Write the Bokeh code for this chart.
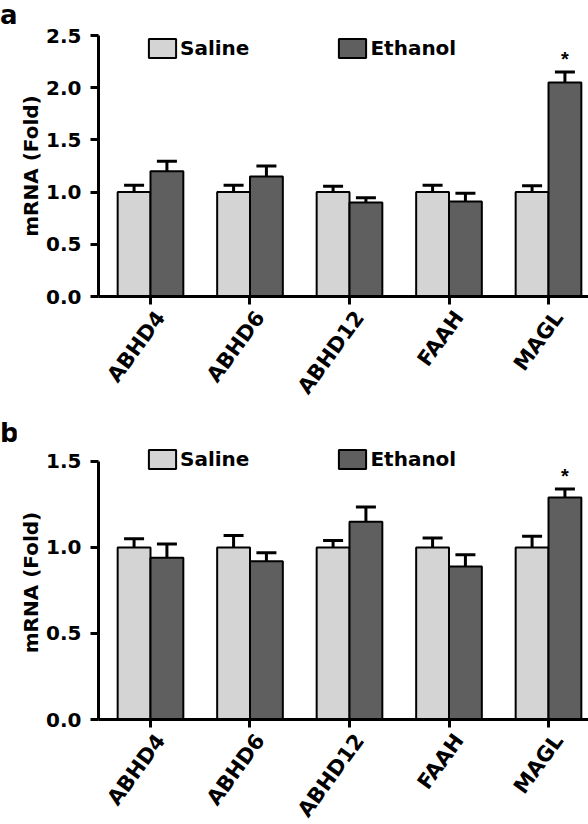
import numpy as np
from bokeh.plotting import figure
from bokeh.models import (ColumnDataSource, Range1d, FixedTicker, Whisker, TeeHead,
                          Legend, LegendItem, PrintfTickFormatter, LinearAxis, Div,
                          CustomLabelingPolicy)
from bokeh.layouts import column, row
from bokeh.embed import file_html
from bokeh.resources import INLINE

FONT = "DejaVu Sans"

genes = ["ABHD4", "ABHD6", "ABHD12", "FAAH", "MAGL"]
series_names = ["Saline", "Ethanol"]

# Panel a
a_saline = [1.00, 1.00, 1.00, 1.00, 1.00]
a_saline_err = [0.065, 0.065, 0.055, 0.065, 0.060]
a_ethanol = [1.20, 1.15, 0.90, 0.91, 2.05]
a_ethanol_err = [0.095, 0.100, 0.045, 0.080, 0.100]
a_sig = [False, False, False, False, True]
a_yticks = [0.0, 0.5, 1.0, 1.5, 2.0, 2.5]

# Panel b
b_saline = [1.00, 1.00, 1.00, 1.00, 1.00]
b_saline_err = [0.050, 0.070, 0.040, 0.055, 0.065]
b_ethanol = [0.94, 0.92, 1.15, 0.89, 1.29]
b_ethanol_err = [0.080, 0.050, 0.085, 0.068, 0.050]
b_sig = [False, False, False, False, True]
b_yticks = [0.0, 0.5, 1.0, 1.5]

SAL_COLOR = "#d4d4d4"
ETH_COLOR = "#5f5f5f"
BAR_W = 0.33
OFF = 0.165
X0, X1 = -0.5226, 4.402
LABEL_SHIFT = 0.1

HIDE_ALL = CustomLabelingPolicy(code="""
for (const i of indices) { indices.unset(i) }
return indices
""")


def make_panel(sal, sal_err, eth, eth_err, sig, yticks, y_extra, frame_h,
               top, bottom, legend_y):
    ymax = yticks[-1]
    p = figure(frame_width=490, frame_height=frame_h,
               min_border_left=79, min_border_right=0,
               min_border_top=top, min_border_bottom=bottom,
               x_range=Range1d(X0, X1), y_range=Range1d(0, ymax + y_extra),
               output_backend="svg", toolbar_location=None)
    p.extra_x_ranges = {"lab": Range1d(X0 - LABEL_SHIFT, X1 - LABEL_SHIFT)}
    idx = np.arange(len(genes))
    xs_s = idx - OFF
    xs_e = idx + OFF
    src_s = ColumnDataSource(dict(x=xs_s, top=sal,
                                  upper=np.array(sal) + np.array(sal_err),
                                  lower=np.array(sal) - np.array(sal_err)))
    src_e = ColumnDataSource(dict(x=xs_e, top=eth,
                                  upper=np.array(eth) + np.array(eth_err),
                                  lower=np.array(eth) - np.array(eth_err)))
    r_s = p.vbar(x="x", top="top", width=BAR_W, source=src_s,
                 fill_color=SAL_COLOR, line_color="black", line_width=2)
    r_e = p.vbar(x="x", top="top", width=BAR_W, source=src_e,
                 fill_color=ETH_COLOR, line_color="black", line_width=2)
    for src in (src_s, src_e):
        w = Whisker(base="x", upper="upper", lower="lower", source=src,
                    line_width=3, line_color="black",
                    upper_head=TeeHead(size=20, line_width=3, line_color="black"),
                    lower_head=TeeHead(size=20, line_width=3, line_color="black"))
        p.add_layout(w)

    # significance marks
    sx = [xs_e[i] for i in range(len(genes)) if sig[i]]
    sy = [eth[i] + eth_err[i] for i in range(len(genes)) if sig[i]]
    p.text(x=sx, y=sy, text=["*"] * len(sx), text_align="center",
           text_baseline="bottom", y_offset=-2, text_font_size="20px",
           text_font_style="bold", text_color="black")

    legend = Legend(items=[LegendItem(label=series_names[0], renderers=[r_s]),
                           LegendItem(label=series_names[1], renderers=[r_e])],
                    orientation="horizontal", location=(47, legend_y),
                    glyph_width=34, glyph_height=24, label_standoff=1, spacing=86,
                    padding=0, margin=0, border_line_alpha=0,
                    background_fill_alpha=0,
                    label_text_font=FONT, label_text_font_style="bold",
                    label_text_font_size="20px", label_text_color="black")
    p.add_layout(legend)

    p.xgrid.visible = False
    p.ygrid.visible = False
    p.outline_line_color = None

    # label axis (labels sit slightly right of the ticks, as in the original)
    lab_axis = LinearAxis(x_range_name="lab",
                          ticker=FixedTicker(ticks=list(range(len(genes)))),
                          major_label_overrides={i: g for i, g in enumerate(genes)},
                          major_label_orientation=0.94,
                          major_label_text_font=FONT,
                          major_label_text_font_style="bold",
                          major_label_text_font_size="21px",
                          major_label_text_color="black",
                          major_label_standoff=9,
                          axis_line_color=None, major_tick_line_color=None,
                          minor_tick_line_color=None,
                          major_tick_out=0, major_tick_in=0)
    p.add_layout(lab_axis, "below")

    p.yaxis.ticker = FixedTicker(ticks=yticks)
    p.yaxis.bounds = (0, ymax)
    p.yaxis.formatter = PrintfTickFormatter(format="%.1f")
    p.yaxis.axis_label = "mRNA (Fold)"
    p.yaxis.axis_label_text_font = FONT
    p.yaxis.axis_label_text_font_style = "bold"
    p.yaxis.axis_label_text_font_size = "20px"
    p.yaxis.axis_label_text_color = "black"
    p.yaxis.axis_label_standoff = 0

    xax = p.xaxis[0]
    yax = p.yaxis[0]
    for ax in (xax, yax):
        ax.axis_line_width = 3
        ax.axis_line_color = "black"
        ax.major_tick_line_width = 3
        ax.major_tick_line_color = "black"
        ax.major_tick_out = 8
        ax.major_tick_in = 0
        ax.minor_tick_line_color = None
        ax.major_label_text_font = FONT
        ax.major_label_text_font_style = "bold"
        ax.major_label_text_color = "black"
    # main x axis: line and tick marks only
    xax.ticker = FixedTicker(ticks=list(range(len(genes))))
    xax.major_label_policy = HIDE_ALL
    xax.major_label_text_font_size = "0px"
    xax.major_label_standoff = 0
    yax.major_label_text_font_size = "20px"
    yax.major_label_standoff = 9
    return p


def letter_div(letter, line_height, height):
    return Div(text=letter, width=16, height=height,
               styles={"font-family": FONT, "font-weight": "bold",
                       "font-size": "26px", "line-height": f"{line_height}px",
                       "color": "black", "overflow": "visible",
                       "margin": "0", "padding": "0"})


pa = make_panel(a_saline, a_saline_err, a_ethanol, a_ethanol_err, a_sig, a_yticks,
                y_extra=0.0, frame_h=261, top=35, bottom=116, legend_y=236)
pb = make_panel(b_saline, b_saline_err, b_ethanol, b_ethanol_err, b_sig, b_yticks,
                y_extra=0.0928, frame_h=274, top=33, bottom=100, legend_y=248)

layout = column(row(letter_div("a", 30, 30), pa, spacing=0),
                row(letter_div("b", 42, 50), pb, spacing=0), spacing=0)
open("out.html", "w").write(file_html(layout, INLINE))
